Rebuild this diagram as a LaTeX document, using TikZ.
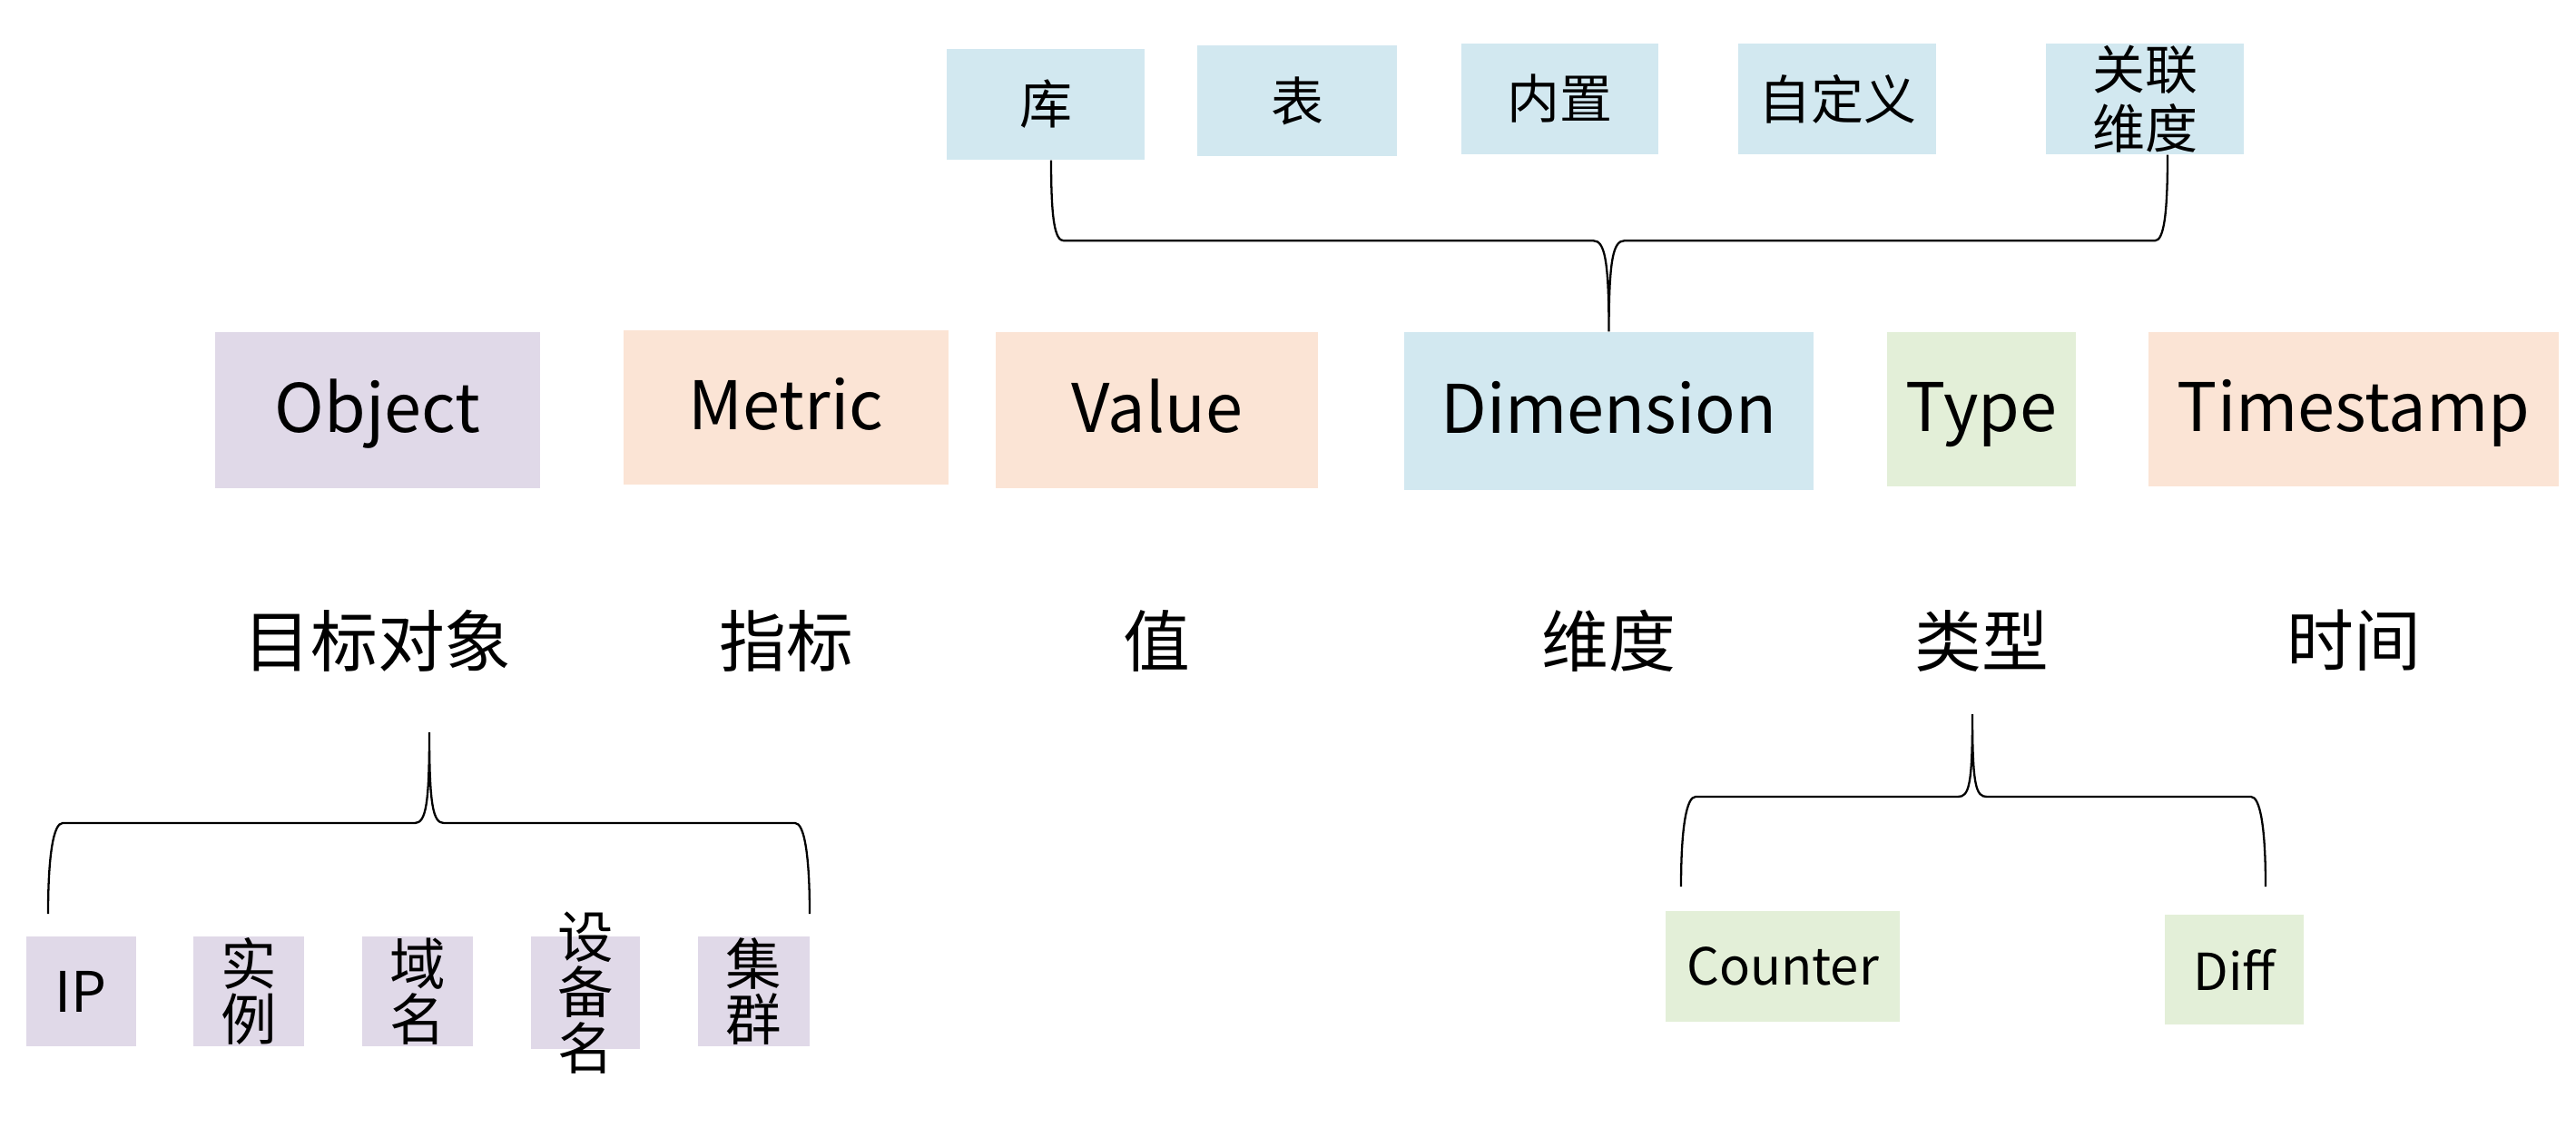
\documentclass[tikz,border=0pt]{standalone}
\usepackage{fontspec}
\setmainfont{Noto Sans CJK SC}
\usepackage{xcolor}
\definecolor{lav}{HTML}{E0D9E8}
\definecolor{peach}{HTML}{FBE4D5}
\definecolor{sky}{HTML}{D2E8F0}
\definecolor{mint}{HTML}{E3EFD8}
\usepackage{tikz}
\usetikzlibrary{positioning,calc}

\begin{document}
\begin{tikzpicture}[
  font=\fontsize{21}{25}\selectfont,
  box/.style={inner sep=0pt,text=black},
  key/.style={box,minimum height=1.72cm,text height=0.49cm,text depth=0cm},
  sub/.style={box,align=center,fill=sky,font=\fontsize{16.5}{18.5}\selectfont,minimum width=2.18cm,minimum height=1.22cm},
  leaf/.style={box,align=center,fill=lav,font=\fontsize{17.5}{17.5}\selectfont,minimum width=1.21cm,minimum height=1.21cm},
  kind/.style={box,fill=mint,font=\fontsize{16}{20}\selectfont,minimum height=1.22cm},
  cn/.style={font=\fontsize{21}{25}\selectfont},
  brc/.style={draw=black,line width=0.65pt},
]
\useasboundingbox (0,0) rectangle (28.38,12.52);

% main row
\node[key,fill=lav,minimum width=3.58cm] (obj) at (4.16,8.00) {Object};
\node[key,fill=peach,minimum width=3.58cm,minimum height=1.70cm] (met) at (8.66,8.03) {Metric};
\node[key,fill=peach,minimum width=3.55cm] (val) at (12.745,8.00) {Value};
\node[key,fill=sky,minimum width=4.51cm,minimum height=1.74cm] (dim) at (17.725,7.99) {Dimension};
\node[key,fill=mint,minimum width=2.08cm,minimum height=1.70cm] (typ) at (21.83,8.01) {Type};
\node[key,fill=peach,minimum width=4.52cm,minimum height=1.70cm] (ts) at (25.93,8.01) {Timestamp};

% chinese names
\coordinate (row) at (0,5.46);
\node[cn] (cobj) at (obj |- row) {目标对象};
\node[cn] (cmet) at (met |- row) {指标};
\node[cn] (cval) at (val |- row) {值};
\node[cn] (cdim) at (dim |- row) {维度};
\node[cn] (ctyp) at (typ |- row) {类型};
\node[cn] (cts)  at (ts |- row)  {时间};

% dimension kinds
\node[sub] (ku) at (11.52,11.37) {库};
\node[sub,minimum width=2.2cm] (biao) at (14.29,11.41) {表};
\node[sub,minimum width=2.17cm] (nz) at (17.185,11.43) {内置};
\node[sub] (zdy) at (20.24,11.43) {自定义};
\node[sub] (gl) at (23.63,11.43) {关联\\维度};

% object kinds
\node[leaf] (ip) at (0.89,1.595) {IP};
\node[leaf,minimum width=1.22cm] (sl) at (2.74,1.595) {实\\例};
\node[leaf,minimum width=1.22cm] (ym) at (4.60,1.595) {域\\名};
\node[leaf,minimum width=1.20cm,minimum height=1.24cm,inner ysep=-0.31cm] (sbm) at (6.45,1.58) {设\\备\\名};
\node[leaf,minimum width=1.23cm] (jq) at (8.305,1.595) {集\\群};

% type kinds
\node[kind,minimum width=2.58cm] (cnt) at (19.64,1.87) {Counter};
\node[kind,minimum width=1.53cm,minimum height=1.21cm] (dif) at (24.615,1.835) {Diff};

% brace over dimension
\coordinate (tl) at ($(ku.south)+(0.06,0)$);
\coordinate (tr) at ($(gl.south)+(0.25,0)$);
\coordinate (tbar) at ($(dim.north)+(0,1)$);
\draw[brc] (tl) .. controls +(0,-0.65) and +(-0.1,0) .. ($(tl|-tbar)+(0.14,0)$) -- ($(tbar)+(-0.17,0)$)
  .. controls +(0.12,0) and +(0,0.8) .. (dim.north) .. controls +(0,0.8) and +(-0.12,0) .. ($(tbar)+(0.17,0)$)
  -- ($(tr|-tbar)+(-0.14,0)$) .. controls +(0.1,0) and +(0,-0.65) .. (tr);

% brace under object
\coordinate (ol) at (0.53,2.45);
\coordinate (orr) at (8.92,2.45);
\coordinate (otip) at (4.73,4.45);
\coordinate (obar) at (4.73,3.45);
\draw[brc] (ol) .. controls +(0,0.65) and +(-0.1,0) .. ($(ol|-obar)+(0.16,0)$) -- ($(obar)+(-0.16,0)$)
  .. controls +(0.12,0) and +(0,-0.8) .. (otip) .. controls +(0,-0.8) and +(-0.12,0) .. ($(obar)+(0.16,0)$)
  -- ($(orr|-obar)+(-0.16,0)$) .. controls +(0.1,0) and +(0,0.65) .. (orr);

% brace under type
\coordinate (kl) at (18.52,2.75);
\coordinate (kr) at (24.96,2.75);
\coordinate (ktip) at (21.73,4.65);
\coordinate (kbar) at (21.73,3.74);
\draw[brc] (kl) .. controls +(0,0.65) and +(-0.1,0) .. ($(kl|-kbar)+(0.16,0)$) -- ($(kbar)+(-0.16,0)$)
  .. controls +(0.12,0) and +(0,-0.8) .. (ktip) .. controls +(0,-0.8) and +(-0.12,0) .. ($(kbar)+(0.16,0)$)
  -- ($(kr|-kbar)+(-0.16,0)$) .. controls +(0.1,0) and +(0,0.65) .. (kr);
\end{tikzpicture}
\end{document}
